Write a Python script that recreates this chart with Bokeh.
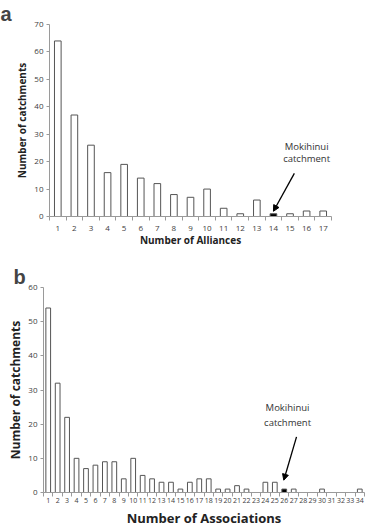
from bokeh.plotting import figure
from bokeh.layouts import column
from bokeh.models import ColumnDataSource, FixedTicker, Label, Arrow, NormalHead
from bokeh.embed import file_html
from bokeh.resources import INLINE

# ---- data ----
alliances = list(range(1, 18))
alliance_counts = [64, 37, 26, 16, 19, 14, 12, 8, 7, 10, 3, 1, 6, 1, 1, 2, 2]
alliance_highlight = 14

associations = list(range(1, 35))
association_counts = [54, 32, 22, 10, 7, 8, 9, 9, 4, 10, 5, 4, 3, 3, 1, 3, 4, 4,
                      1, 1, 2, 1, 0, 3, 3, 1, 1, 0, 0, 1, 0, 0, 0, 1]
association_highlight = 26

ann_text = ["Mokihinui", "catchment"]
# annotation anchors (data units)
a_text_x, a_text_y = [16.0, 16.0], [25.4, 21.0]
a_arrow = (15.26, 15.7, 14.0, 1.9)
b_text_x, b_text_y = [26.35, 26.35], [24.8, 20.4]
b_arrow = (27.3, 16.3, 25.95, 3.6)

FONT = "Open Sans"
AX = "#9a9a9a"
TXT = "#404040"
BAR = "#555555"


def make(cats, counts, hl, ymax, bar_w, w, h, borders, xlabel, letter, tx, ty, arr,
         xtick_size, xl_standoff, xl_lab_standoff, yl_standoff, letter_off,
         xlab_size, ylab_size):
    p = figure(width=w, height=h, output_backend="svg", toolbar_location=None,
               x_range=(0.5, len(cats) + 0.5), y_range=(0, ymax),
               min_border_left=borders[0], min_border_right=borders[1],
               min_border_top=borders[2], min_border_bottom=borders[3],
               frame_align=False)
    p.outline_line_color = None
    p.xgrid.grid_line_color = None
    p.ygrid.grid_line_color = None
    p.title.text = letter
    p.title.text_font = "Liberation Sans"
    p.title.text_font_style = "bold"
    p.title.text_font_size = "20px"
    p.title.text_line_height = 0.85
    p.title.align = "left"
    p.title.offset = letter_off
    p.title.standoff = 0
    fills = ["black" if c == hl else "white" for c in cats]
    src = ColumnDataSource(dict(x=cats, top=counts, fill=fills))
    p.vbar(x="x", top="top", width=bar_w, bottom=0, source=src,
           fill_color="fill", line_color=BAR, line_width=1)

    xa = p.xaxis[0]
    xa.ticker = FixedTicker(ticks=cats, minor_ticks=[c + 0.5 for c in [0] + cats])
    xa.major_tick_out = 0
    xa.major_tick_in = 0
    xa.minor_tick_out = 4
    xa.minor_tick_in = 0
    xa.minor_tick_line_color = AX
    xa.axis_line_color = AX
    xa.major_label_text_font = FONT
    xa.major_label_text_font_size = xtick_size
    xa.major_label_text_color = TXT
    xa.major_label_standoff = xl_standoff
    xa.axis_label = xlabel
    xa.axis_label_text_font = FONT
    xa.axis_label_text_font_style = "bold"
    xa.axis_label_text_font_size = xlab_size
    xa.axis_label_text_color = "#222222"
    xa.axis_label_standoff = xl_lab_standoff

    ya = p.yaxis[0]
    ya.ticker = FixedTicker(ticks=list(range(0, ymax + 1, 10)))
    ya.major_tick_out = 3
    ya.major_tick_in = 0
    ya.minor_tick_out = 0
    ya.minor_tick_in = 0
    ya.major_tick_line_color = AX
    ya.axis_line_color = AX
    ya.major_label_text_font = FONT
    ya.major_label_text_font_size = "8px"
    ya.major_label_text_color = TXT
    ya.major_label_standoff = 3
    ya.axis_label = "Number of catchments"
    ya.axis_label_text_font = FONT
    ya.axis_label_text_font_style = "bold"
    ya.axis_label_text_font_size = ylab_size
    ya.axis_label_text_color = "#222222"
    ya.axis_label_standoff = yl_standoff

    for t, x, y in zip(ann_text, tx, ty):
        p.add_layout(Label(x=x, y=y, text=t, text_align="center", text_baseline="middle",
                           text_font=FONT, text_font_size="9.5px", text_color="#333333"))
    p.add_layout(Arrow(end=NormalHead(size=6, fill_color="black", line_color="black"),
                       x_start=arr[0], y_start=arr[1], x_end=arr[2], y_end=arr[3],
                       line_color="black", line_width=1.3))
    return p


pa = make(alliances, alliance_counts, alliance_highlight, 70, 0.4, 375, 260,
          (49, 44, 20, 44), "Number of Alliances", "a", a_text_x, a_text_y, a_arrow,
          "8px", 5, -1, 2, -49, "10px", "10px")
pb = make(associations, association_counts, association_highlight, 60, 0.5, 375, 269,
          (43, 11, 27, 36), "Number of Associations", "b", b_text_x, b_text_y, b_arrow,
          "7px", 1, 3, 1, -30, "13px", "12px")

layout = column(pa, pb, spacing=0)
open("out.html", "w").write(file_html(layout, INLINE))
